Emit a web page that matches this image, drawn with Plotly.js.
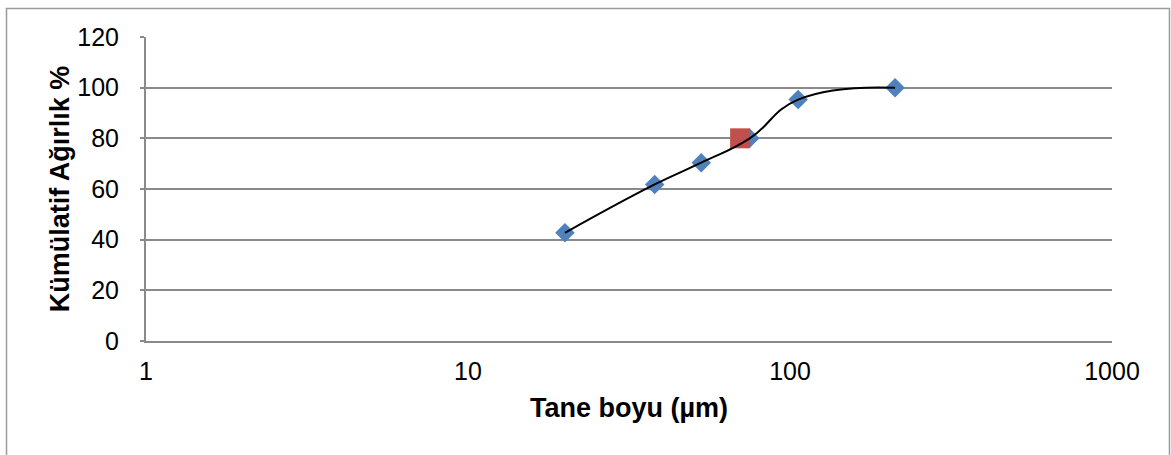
<!DOCTYPE html>
<html>
<head>
<meta charset="utf-8">
<script src="https://cdn.plot.ly/plotly-3.0.1.min.js"></script>
<style>
  html, body { margin: 0; padding: 0; background: #ffffff; }
  #chart { width: 1171px; height: 455px; }
</style>
</head>
<body>
<div id="chart"></div>
<script>
// Data
const grainSize = [20, 38, 53, 75, 106, 212];          // Tane boyu (µm)
const cumulative = [42.7, 61.8, 70.4, 80, 95.3, 100];   // Kümülatif Ağırlık %
const markedSize = [70];
const markedValue = [80];
const xTickVals = [1, 10, 100, 1000];
const xTickText = ['1', '10', '100', '1000'];
const yTickVals = [0, 20, 40, 60, 80, 100, 120];

const FONT = 'Liberation Sans, Arial, sans-serif';
const GRID = '#8a8a8a';

const traces = [
  {
    x: grainSize, y: cumulative, type: 'scatter', mode: 'markers',
    marker: { symbol: 'diamond', size: 15, color: '#4F81BD', line: { width: 0 } },
    hoverinfo: 'x+y', showlegend: false
  },
  {
    x: markedSize, y: markedValue, type: 'scatter', mode: 'markers',
    marker: { symbol: 'square', size: 20, color: '#C0504D', line: { width: 0 } },
    hoverinfo: 'x+y', showlegend: false
  },
  {
    x: grainSize, y: cumulative, type: 'scatter', mode: 'lines',
    line: { color: '#000000', width: 2, shape: 'spline', smoothing: 1.3 },
    hoverinfo: 'skip', showlegend: false
  }
];

const layout = {
  width: 1171, height: 455,
  margin: { l: 146, r: 59, t: 37, b: 114, pad: 0 },
  paper_bgcolor: '#ffffff', plot_bgcolor: '#ffffff',
  font: { family: FONT, size: 25, color: '#000000' },
  xaxis: {
    type: 'log', range: [0, 3],
    tickmode: 'array', tickvals: xTickVals, ticktext: xTickText,
    showgrid: false, zeroline: false,
    showline: true, linecolor: GRID, linewidth: 2,
    ticks: '', ticklabelstandoff: 7,
    tickfont: { family: FONT, size: 25, color: '#000' },
    title: { text: 'Tane boyu (µm)', font: { family: FONT, size: 27, color: '#000', weight: 'bold' }, standoff: 14 }
  },
  yaxis: {
    range: [0, 120],
    tickmode: 'array', tickvals: yTickVals,
    showgrid: true, gridcolor: GRID, gridwidth: 2,
    zeroline: false,
    showline: true, linecolor: GRID, linewidth: 2,
    ticks: 'outside', ticklen: 4, tickcolor: GRID, tickwidth: 2,
    ticklabelstandoff: 16,
    tickfont: { family: FONT, size: 25, color: '#000' },
    title: { text: 'Kümülatif Ağırlık %', font: { family: FONT, size: 27, color: '#000', weight: 'bold' }, standoff: 0 }
  },
  shapes: [
    {
      type: 'rect', xref: 'paper', yref: 'paper',
      x0: -0.1444, x1: 1.0595, y0: -0.39, y1: 1.0938,
      line: { color: '#9a9a9a', width: 1.5 }, fillcolor: 'rgba(0,0,0,0)', layer: 'below'
    }
  ]
};

Plotly.newPlot('chart', traces, layout, { displayModeBar: false, staticPlot: true });
</script>
</body>
</html>
